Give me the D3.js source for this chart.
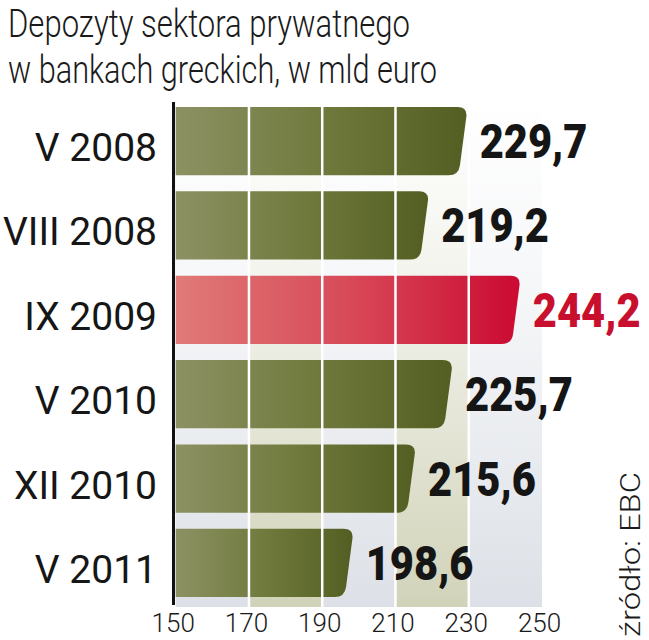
<!DOCTYPE html>
<html>
<head>
<meta charset="utf-8">
<script src="https://cdn.jsdelivr.net/npm/d3@7"></script>
<style>
  html, body { margin: 0; padding: 0; background: #fff; }
  svg { display: block; }
</style>
</head>
<body>
<div id="chart"></div>
<script>
// ---- data ----
const titleLines = ["Depozyty sektora prywatnego", "w bankach greckich, w mld euro"];
const categories = ["V 2008", "VIII 2008", "IX 2009", "V 2010", "XII 2010", "V 2011"];
const values = [229.7, 219.2, 244.2, 225.7, 215.6, 198.6];
const highlighted = ["IX 2009"];
const tickValues = [150, 170, 190, 210, 230, 250];
const sourceText = "źródło: EBC";

// ---- setup ----
const W = 649, H = 640;
const svg = d3.select("#chart").append("svg").attr("width", W).attr("height", H);
const defs = svg.append("defs");

const x = d3.scaleLinear().domain([150, 250]).range([175.7, 542]);
const y = d3.scaleBand().domain(categories).range([98.9, 605.1]).paddingInner(0.19).paddingOuter(0.095);

const plotTop = 100, plotBottom = 607;
const pl = d3.formatLocale({decimal: ",", thousands: " ", grouping: [3], currency: ["", " €"]});
const fmt = pl.format(".1f");

// gradients
const gOlive = defs.append("linearGradient").attr("id", "olive").attr("x1", "0").attr("x2", "1").attr("y1", "0").attr("y2", "0");
gOlive.append("stop").attr("offset", "0").attr("stop-color", "#8c9163");
gOlive.append("stop").attr("offset", "0.5").attr("stop-color", "#707a3d");
gOlive.append("stop").attr("offset", "1").attr("stop-color", "#535e22");
const gRed = defs.append("linearGradient").attr("id", "red").attr("x1", "0").attr("x2", "1").attr("y1", "0").attr("y2", "0");
gRed.append("stop").attr("offset", "0").attr("stop-color", "#e07a78");
gRed.append("stop").attr("offset", "0.5").attr("stop-color", "#d84a58");
gRed.append("stop").attr("offset", "1").attr("stop-color", "#cb0a32");
const gFade = defs.append("linearGradient").attr("id", "fade").attr("x1", "0").attr("x2", "0").attr("y1", "0").attr("y2", "1");
gFade.append("stop").attr("offset", "0").attr("stop-color", "#fff").attr("stop-opacity", 1);
gFade.append("stop").attr("offset", "0.35").attr("stop-color", "#fff").attr("stop-opacity", 0.75);
gFade.append("stop").attr("offset", "1").attr("stop-color", "#fff").attr("stop-opacity", 0);

// background bands
const bands = d3.pairs(tickValues);
svg.append("g").selectAll("rect").data(bands).join("rect")
  .attr("x", d => x(d[0]))
  .attr("width", d => x(d[1]) - x(d[0]))
  .attr("y", plotTop).attr("height", plotBottom - plotTop)
  .attr("fill", (d, i) => i % 2 === 0 ? "#dde1e7" : "#d1d3b9");
svg.append("rect").attr("x", x(150)).attr("width", x(250) - x(150))
  .attr("y", plotTop).attr("height", plotBottom - plotTop).attr("fill", "url(#fade)");

// bars
function barPath(x0, x1, yy, h) {
  const s = 9, r = 10;
  const ax = x1 - s * r / h, bx = x1 - s * (h - r) / h;
  return `M${x0},${yy} H${x1 - r} Q${x1},${yy} ${ax},${yy + r} L${bx},${yy + h - r} Q${x1 - s},${yy + h} ${x1 - s - r},${yy + h} H${x0} Z`;
}
const data = categories.map((c, i) => ({cat: c, v: values[i], hi: highlighted.includes(c)}));
svg.append("g").selectAll("path").data(data).join("path")
  .attr("d", d => barPath(x(150), x(d.v), y(d.cat), y.bandwidth()))
  .attr("fill", d => d.hi ? "url(#red)" : "url(#olive)");

// white gridlines
svg.append("g").selectAll("line").data(tickValues.slice(1, -1)).join("line")
  .attr("x1", d => x(d)).attr("x2", d => x(d))
  .attr("y1", plotTop).attr("y2", plotBottom)
  .attr("stroke", "#fff").attr("stroke-width", 2.5);

// axis line
svg.append("line").attr("x1", 173.5).attr("x2", 173.5).attr("y1", 102).attr("y2", 605)
  .attr("stroke", "#111").attr("stroke-width", 3);

// category labels
svg.append("g").selectAll("text").data(data).join("text")
  .attr("x", 157).attr("y", d => y(d.cat) + y.bandwidth() / 2 + 20)
  .attr("text-anchor", "end")
  .attr("font-family", "Roboto, 'Liberation Sans', sans-serif")
  .attr("font-size", 39).attr("fill", "#161616")
  .text(d => d.cat);

// value labels
svg.append("g").selectAll("text").data(data).join("text")
  .attr("transform", d => `translate(${x(d.v) + 12},${y(d.cat) + y.bandwidth() / 2 + 17}) scale(0.85,1)`)
  .attr("font-family", "Roboto, 'Liberation Sans', sans-serif")
  .attr("font-weight", 900)
  .attr("font-size", 49)
  .attr("fill", d => d.hi ? "#c8102e" : "#151515")
  .text(d => fmt(d.v));

// x tick labels
const xAxis = d3.axisBottom(x).tickValues(tickValues).tickSize(0).tickPadding(0).tickFormat(d3.format("d"));
const ax = svg.append("g").attr("transform", `translate(-3,${plotBottom})`).call(xAxis);
ax.select(".domain").remove();
ax.selectAll("text")
  .attr("dy", null).attr("y", 25)
  .attr("font-family", "Roboto, 'Liberation Sans', sans-serif")
  .attr("font-weight", 300)
  .attr("font-size", 26).attr("fill", "#1a1a1a");

// title
svg.append("g").selectAll("text").data(titleLines).join("text")
  .attr("x", 8).attr("y", (d, i) => 37 + i * 46)
  .attr("font-family", "Roboto, 'Liberation Sans', sans-serif")
  .attr("font-weight", 300)
  .attr("font-size", 38).attr("fill", "#1a1a1a")
  .attr("textLength", (d, i) => i === 0 ? 402 : 429)
  .attr("lengthAdjust", "spacingAndGlyphs")
  .text(d => d);

// source
svg.append("text")
  .attr("transform", "translate(640,637) rotate(-90)")
  .attr("font-family", "Roboto, 'Liberation Sans', sans-serif")
  .attr("font-weight", 300)
  .attr("font-size", 27).attr("fill", "#1a1a1a")
  .attr("textLength", 165).attr("lengthAdjust", "spacingAndGlyphs")
  .text(sourceText);
</script>
</body>
</html>
